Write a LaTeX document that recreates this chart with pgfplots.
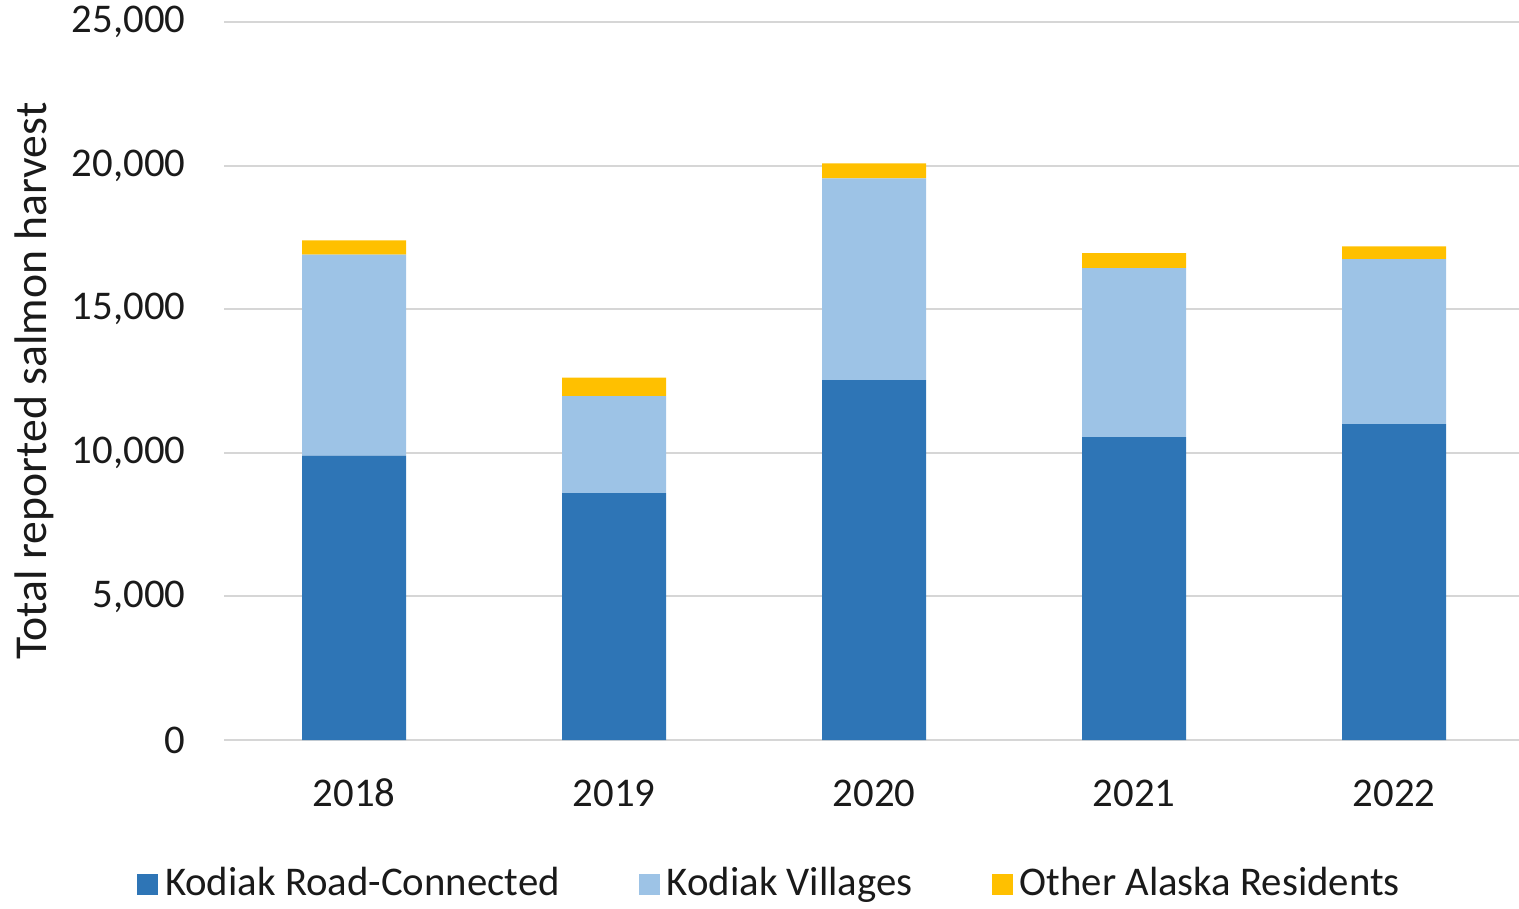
\documentclass[border=0pt]{standalone}
\usepackage{pgfplots}
\pgfplotsset{compat=1.18}
\usepackage{fontspec}
\setmainfont{Carlito}
\definecolor{roadblue}{HTML}{2E75B6}
\definecolor{villblue}{HTML}{9DC3E6}
\definecolor{othyel}{HTML}{FFC000}
\definecolor{txt}{HTML}{1A1A1A}

\begin{document}
\begin{tikzpicture}
\useasboundingbox (-22.4mm,-16.8mm) rectangle (129.5mm,74.0mm);
\begin{axis}[
    scale only axis,
    width=130mm, height=71.8mm,
    ybar stacked,
    bar width=10.4mm,
    xmin=-0.5, xmax=4.5,
    ymin=0, ymax=25000,
    xtick=data,
    xticklabels={2018,2019,2020,2021,2022},
    ytick={0,5000,10000,15000,20000,25000},
    scaled y ticks=false,
    /pgf/number format/assume math mode=true,
    /pgf/number format/1000 sep={,},
    axis line style={draw=none},
    major tick length=0pt,
    ymajorgrids,
    grid style={draw=gray!32, line width=0.2mm},
    font=\fontsize{11.6}{14}\selectfont\color{txt},
    yticklabel style={anchor=east, inner sep=0pt, xshift=-3.8mm},
    xticklabel style={anchor=center, inner sep=0pt, yshift=-5.3mm},
    every axis y label/.style={at={(axis description cs:-0.1458,0.5)}, anchor=center, rotate=90,
        font=\fontsize{13}{15}\selectfont\color{txt}},
    ylabel={Total reported salmon harvest},
    legend style={draw=none, legend columns=3, at={(axis description cs:0.4215,0)},
        anchor=center, yshift=-14.4mm, font=\fontsize{11.6}{14}\selectfont\color{txt},
        /tikz/every even column/.append style={column sep=7.2mm},
        /tikz/every odd column/.append style={column sep=0mm}},
    legend image code/.code={\fill[#1, draw=none] (0mm,-1.05mm) rectangle (2.1mm,1.05mm);},
]
\addplot[fill=roadblue, draw=none] coordinates {(0,9900) (1,8600) (2,12530) (3,10550) (4,11000)};
\addplot[fill=villblue, draw=none] coordinates {(0,7000) (1,3370) (2,7030) (3,5880) (4,5740)};
\addplot[fill=othyel, draw=none] coordinates {(0,500) (1,650) (2,520) (3,520) (4,450)};
\legend{Kodiak Road-Connected, Kodiak Villages, Other Alaska Residents}
\end{axis}
\end{tikzpicture}
\end{document}
